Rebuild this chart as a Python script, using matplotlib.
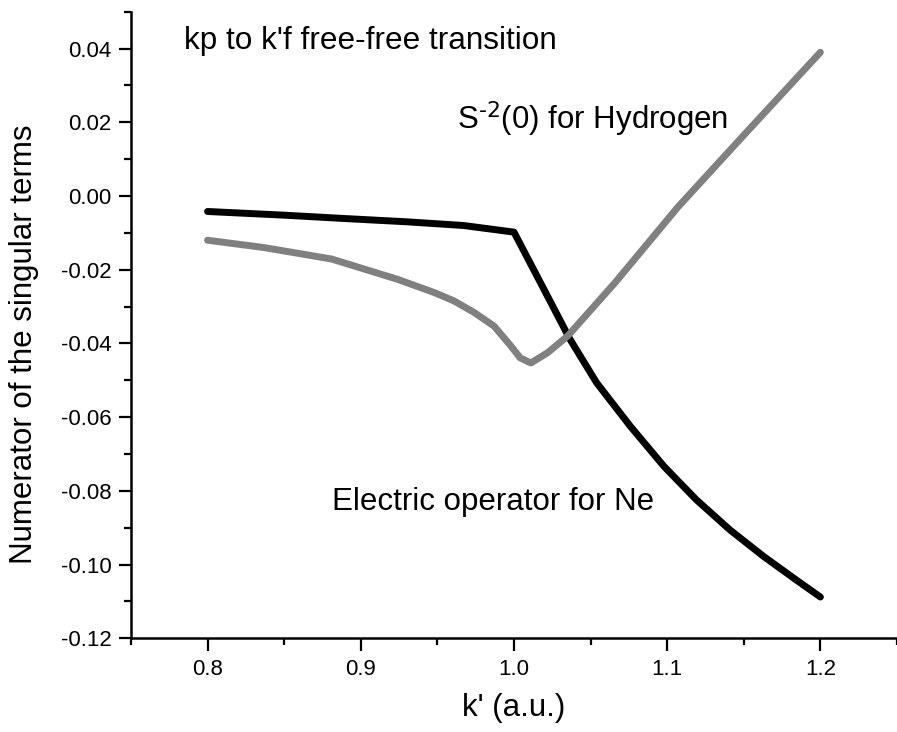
import matplotlib
matplotlib.use("Agg")
import matplotlib.pyplot as plt
from matplotlib.ticker import MultipleLocator, FormatStrFormatter

plt.rcParams['font.family'] = ['Liberation Sans', 'DejaVu Sans']
plt.rcParams['axes.unicode_minus'] = False
plt.rcParams['mathtext.default'] = 'regular'

# Electric operator for Ne (black curve)
ne_k = [0.80, 0.85, 0.889, 0.93, 0.967, 1.0, 1.015, 1.0366, 1.054, 1.076,
        1.098, 1.119, 1.141, 1.163, 1.184, 1.20]
ne_val = [-0.0042, -0.0052, -0.0061, -0.0070, -0.0080, -0.0098, -0.0217, -0.0389,
          -0.0507, -0.0625, -0.0734, -0.0824, -0.0906, -0.0978, -0.1041, -0.1088]

# S^-2(0) for Hydrogen (grey curve)
h_k = [0.80, 0.837, 0.881, 0.924, 0.948, 0.961, 0.974, 0.987, 0.998, 1.004,
       1.011, 1.022, 1.035, 1.066, 1.107, 1.15, 1.20]
h_val = [-0.0120, -0.0140, -0.0171, -0.0226, -0.0262, -0.0285, -0.0316, -0.0353,
         -0.0407, -0.0439, -0.0453, -0.0425, -0.0380, -0.0235, -0.0030, 0.0165, 0.0390]

fig = plt.figure(figsize=(8.97, 7.32), dpi=100)
ax = fig.add_axes([0.146, 0.128, 0.854, 0.856])

ax.plot(ne_k, ne_val, color='black', lw=5, solid_capstyle='round', solid_joinstyle='round')
ax.plot(h_k, h_val, color='#808080', lw=5, solid_capstyle='round', solid_joinstyle='round')

ax.set_xlim(0.75, 1.25)
ax.set_ylim(-0.12, 0.05)

ax.xaxis.set_major_locator(MultipleLocator(0.1))
ax.xaxis.set_minor_locator(MultipleLocator(0.05))
ax.yaxis.set_major_locator(MultipleLocator(0.02))
ax.yaxis.set_minor_locator(MultipleLocator(0.01))
ax.xaxis.set_major_formatter(FormatStrFormatter('%.1f'))
ax.yaxis.set_major_formatter(FormatStrFormatter('%.2f'))

for side in ['top', 'right']:
    ax.spines[side].set_visible(False)
for side in ['left', 'bottom']:
    ax.spines[side].set_linewidth(1.8)

ax.tick_params(which='major', direction='out', length=9, width=1.6, labelsize=16, pad=5)
ax.tick_params(which='minor', direction='out', length=5, width=1.6)
ax.tick_params(axis='x', which='major', pad=6)

ax.set_xlabel("k' (a.u.)", fontsize=22.5, va='top')
ax.xaxis.set_label_coords(0.5, -0.088)
ax.set_ylabel("Numerator of the singular terms", fontsize=22.5, va='center')
ax.yaxis.set_label_coords(-0.14, 0.47)

ax.text(0.7848, 0.0398, "kp to k'f free-free transition", fontsize=22.7, va='baseline')
ax.text(0.963, 0.018, r"S$^{\text{-2}}$(0) for Hydrogen", fontsize=22.5, va='baseline')
ax.text(0.881, -0.0851, "Electric operator for Ne", fontsize=22.5, va='baseline')

fig.savefig("out.png", dpi=100)
